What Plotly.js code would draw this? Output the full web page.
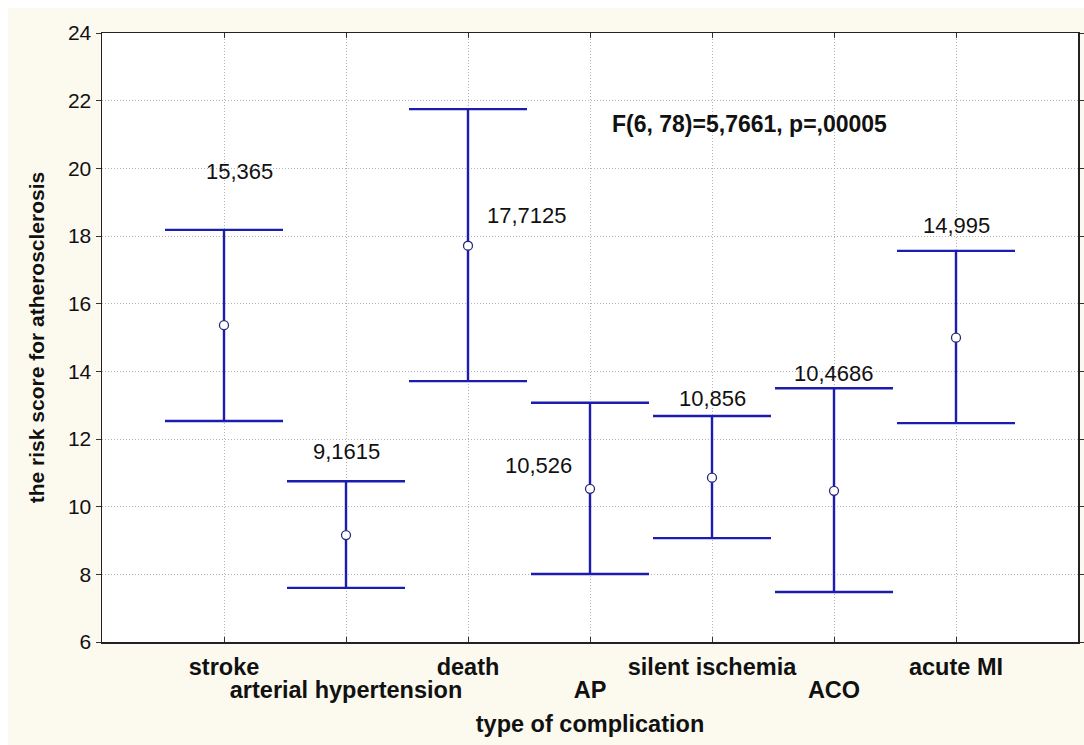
<!DOCTYPE html>
<html>
<head>
<meta charset="utf-8">
<script src="https://cdn.plot.ly/plotly-3.0.1.min.js"></script>
<style>
html,body{margin:0;padding:0;background:#ffffff;}
#chart{position:absolute;left:8px;top:8px;width:1076px;height:737px;}
</style>
</head>
<body>
<div id="chart"></div>
<script>
// Data
const categories = ["stroke", "arterial hypertension", "death", "AP", "silent ischemia", "ACO", "acute MI"];
const means = [15.365, 9.1615, 17.7125, 10.526, 10.856, 10.4686, 14.995];
const upperCI = [18.18, 10.75, 21.75, 13.07, 12.68, 13.50, 17.56];
const lowerCI = [12.53, 7.60, 13.71, 8.01, 9.07, 7.48, 12.47];
const statText = "F(6, 78)=5,7661, p=,00005";
const yTicks = [6, 8, 10, 12, 14, 16, 18, 20, 22, 24];

// Label placement styles (pixel offsets), not data
const labelStyle = [
  {anchor: "upper", dx: 15, dy: 58},
  {anchor: "upper", dx: 0, dy: 30},
  {anchor: "mean", dx: 59, dy: 30},
  {anchor: "mean", dx: -52, dy: 23},
  {anchor: "upper", dx: 0, dy: 17},
  {anchor: "upper", dx: 0, dy: 15},
  {anchor: "upper", dx: 0, dy: 25}
];

const xIdx = categories.map((c, i) => i + 1);
const blue = "#1c1cb0";
const FONT = "Liberation Sans, Arial, sans-serif";

const trace = {
  type: "scatter",
  mode: "markers",
  x: xIdx,
  y: means,
  marker: {symbol: "circle", size: 9, color: "#ffffff", line: {color: "#2a2a7a", width: 1.3}},
  error_y: {
    type: "data",
    symmetric: false,
    array: upperCI.map((u, i) => u - means[i]),
    arrayminus: means.map((m, i) => m - lowerCI[i]),
    color: blue,
    thickness: 2.4,
    width: 59
  },
  hoverinfo: "skip"
};

const fmt = v => String(v).replace(".", ",");

const annotations = means.map((m, i) => {
  const s = labelStyle[i];
  return {
    x: xIdx[i],
    y: s.anchor === "upper" ? upperCI[i] : m,
    xref: "x", yref: "y",
    text: fmt(m),
    showarrow: false,
    xshift: s.dx, yshift: s.dy,
    font: {family: FONT, size: 22, color: "#111111"}
  };
});
annotations.push({
  x: 4.16, y: 21.31, xref: "x", yref: "y",
  xanchor: "left", yanchor: "middle",
  text: "<b>" + statText + "</b>",
  showarrow: false,
  font: {family: FONT, size: 23, color: "#111111"}
});

// Row 1 labels on main axis, row 2 labels on an overlaid axis
const row1Text = categories.map((c, i) => i % 2 === 0 ? "<b>" + c + "</b>" : "");
const row2Text = categories.map((c, i) => i % 2 === 1 ? "<b>" + c + "</b>" : "");

const gridStyle = {showgrid: true, gridcolor: "#b4b4b4", griddash: "1px,2px", gridwidth: 1};

const layout = {
  width: 1076, height: 737,
  paper_bgcolor: "#fcfaef",
  plot_bgcolor: "#ffffff",
  margin: {l: 94, r: 6, t: 25, b: 103},
  showlegend: false,
  xaxis: Object.assign({
    range: [0, 8],
    tickmode: "array",
    tickvals: xIdx,
    ticktext: row1Text,
    ticks: "inside", ticklen: 5, tickcolor: "#333",
    ticklabelstandoff: 3,
    showline: true, linecolor: "#222", linewidth: 1.5, mirror: "ticks",
    zeroline: false,
    tickfont: {family: FONT, size: 23.5, color: "#111"},
    title: {text: "<b>type of complication</b>", standoff: 37,
      font: {family: FONT, size: 23.5, color: "#111"}}
  }, gridStyle),
  xaxis2: {
    overlaying: "x", anchor: "y", side: "bottom",
    range: [0, 8],
    tickmode: "array",
    tickvals: xIdx,
    ticktext: row2Text,
    ticks: "", showgrid: false, showline: false, zeroline: false,
    ticklabelstandoff: 31,
    tickfont: {family: FONT, size: 23.5, color: "#111"}
  },
  yaxis: Object.assign({
    range: [6, 24],
    tickmode: "array",
    tickvals: yTicks,
    ticks: "outside", ticklen: 5, tickcolor: "#333",
    showline: true, linecolor: "#222", linewidth: 1.5, mirror: "ticks",
    zeroline: false,
    tickfont: {family: FONT, size: 21, color: "#111"},
    title: {text: "<b>the risk score for atherosclerosis</b>", standoff: 17,
      font: {family: FONT, size: 21, color: "#111"}}
  }, gridStyle),
  annotations: annotations
};

Plotly.newPlot("chart", [trace, {type: "scatter", x: [], y: [], xaxis: "x2", yaxis: "y", hoverinfo: "skip"}], layout, {displayModeBar: false, staticPlot: true});
</script>
</body>
</html>
